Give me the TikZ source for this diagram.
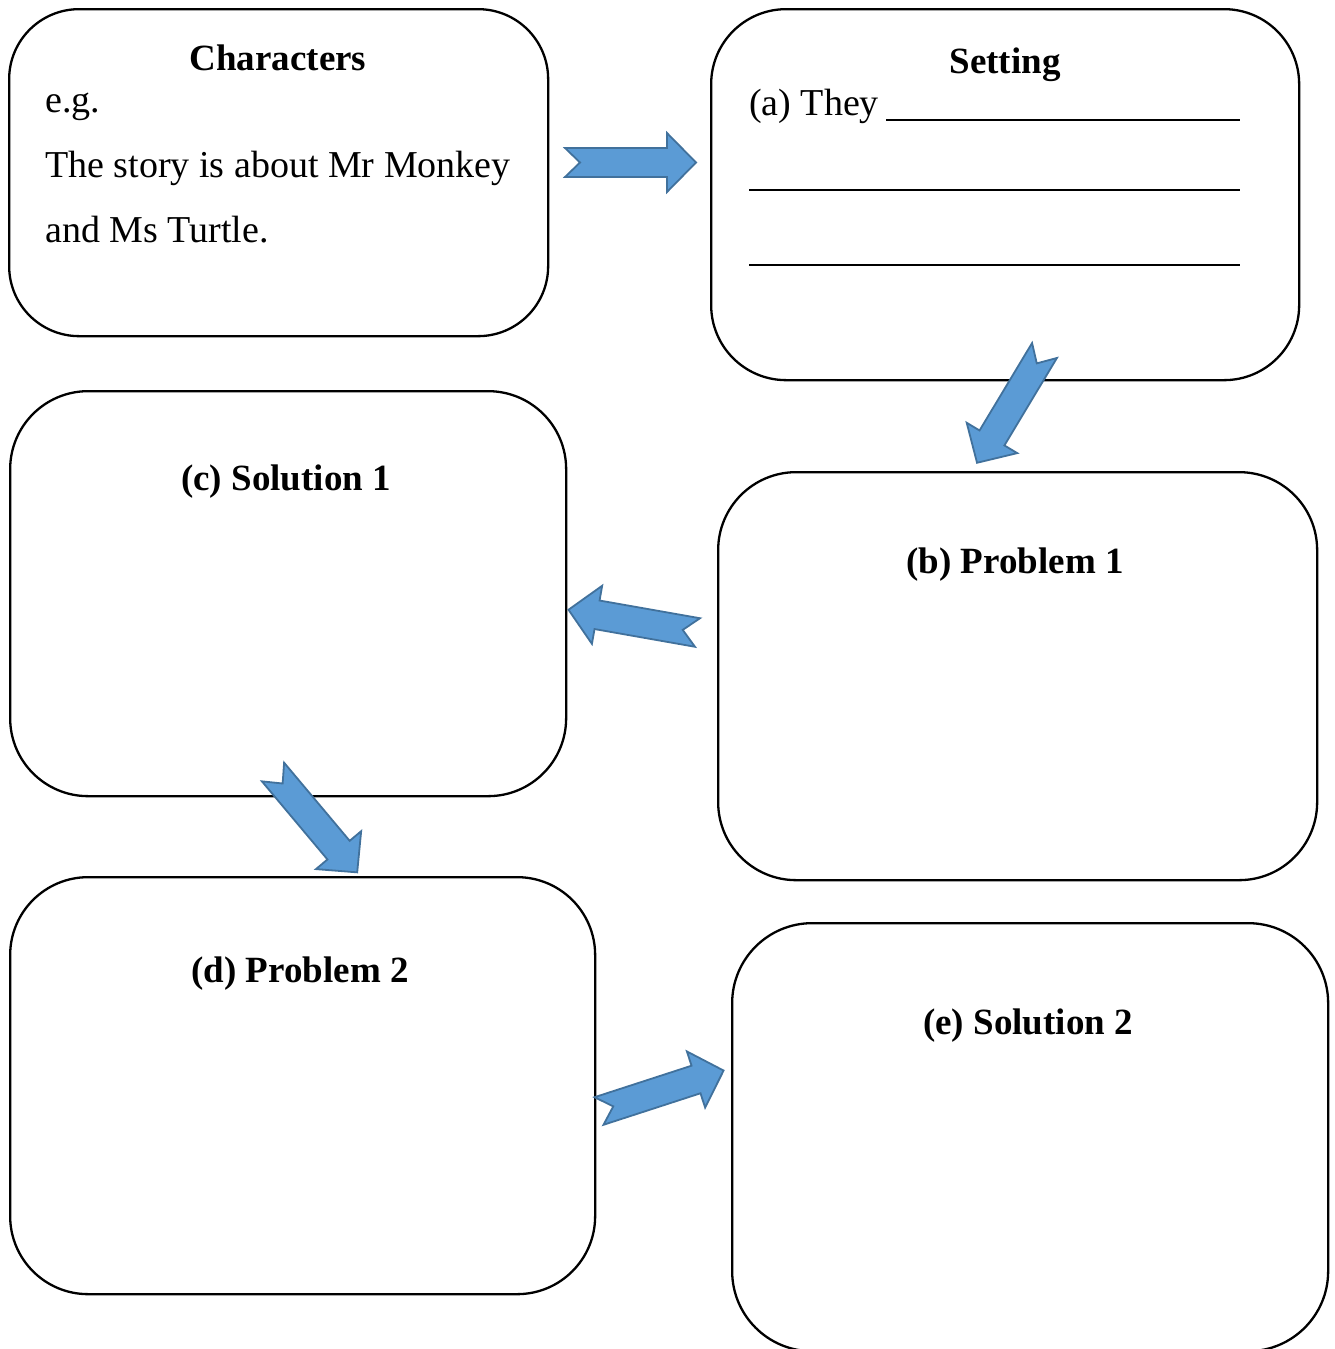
\documentclass[tikz,border=0pt]{standalone}
\usepackage{fontspec}
\setmainfont{Liberation Serif}
\definecolor{arrfill}{RGB}{91,155,213}
\definecolor{arrline}{RGB}{65,113,156}
\begin{document}
\begin{tikzpicture}[x=1pt,y=1pt,
  box/.style={draw=black, line width=2.3pt, rounded corners=70pt, inner sep=0pt, anchor=north west},
  head/.style={anchor=base, font=\fontsize{37}{44}\selectfont\bfseries, inner sep=0pt},
  body/.style={anchor=base west, font=\fontsize{38}{46}\selectfont, inner sep=0pt},
  rule/.style={line width=1.6pt},
  arrowshape/.style={fill=arrfill, draw=arrline, line width=1.8pt, line join=miter},
  blockarr/.pic={\draw[arrowshape] (0,14.5) -- (102,14.5) -- (102,29.5) -- (131,0) -- (102,-29.5) -- (102,-14.5) -- (0,-14.5) -- (15,0) -- cycle;}]
\useasboundingbox (0,0) rectangle (1335,-1349);
% boxes
\node[box, minimum width=539pt, minimum height=327pt] (chars) at (8,-8) {};
\node[box, minimum width=588pt, minimum height=371pt, rounded corners=75pt] (setting) at (710,-8) {};
\node[box, minimum width=556pt, minimum height=405pt, rounded corners=78pt] (sol1) at (9,-390) {};
\node[box, minimum width=599pt, minimum height=408pt, rounded corners=78pt] (prob1) at (717,-471) {};
\node[box, minimum width=585pt, minimum height=417pt, rounded corners=78pt] (prob2) at (9,-876) {};
\node[box, minimum width=596pt, minimum height=428pt, rounded corners=80pt] (sol2) at (731,-922) {};
% texts
\node[head] (tchars) at (278,-70) {Characters};
\node[body] (teg) at (45,-112) {e.g.};
\node[body] (tstory) at (45,-177) {The story is about Mr Monkey};
\node[body] (tand) at (45,-242) {and Ms Turtle.};
\node[head] (tsetting) at (1005,-73) {Setting};
\node[body] (tthey) at (749,-115) {(a) They};
\coordinate (l1a) at (886,-120); \coordinate (l1b) at (1240,-120);
\coordinate (l2a) at (749,-190); \coordinate (l2b) at (1240,-190);
\coordinate (l3a) at (749,-265); \coordinate (l3b) at (1240,-265);
\draw[rule] (l1a) -- (l1b);
\draw[rule] (l2a) -- (l2b);
\draw[rule] (l3a) -- (l3b);
\node[head] (tsol1) at (286,-490) {(c) Solution 1};
\node[head] (tprob1) at (1015,-573) {(b) Problem 1};
\node[head] (tprob2) at (300,-982) {(d) Problem 2};
\node[head] (tsol2) at (1028,-1034) {(e) Solution 2};
% arrows
\coordinate (a1) at (565,-162.5);
\coordinate (a2) at (1044.5,-350.5);
\coordinate (a3) at (697.5,-632.5);
\coordinate (a4) at (273,-772);
\coordinate (a5) at (599,-1111);
\pic at (a1) {blockarr};
\pic[rotate=239] at (a2) {blockarr};
\pic[rotate=170] at (a3) {blockarr};
\pic[rotate=-50] at (a4) {blockarr};
\pic[rotate=18] at (a5) {blockarr};
\end{tikzpicture}
\end{document}
